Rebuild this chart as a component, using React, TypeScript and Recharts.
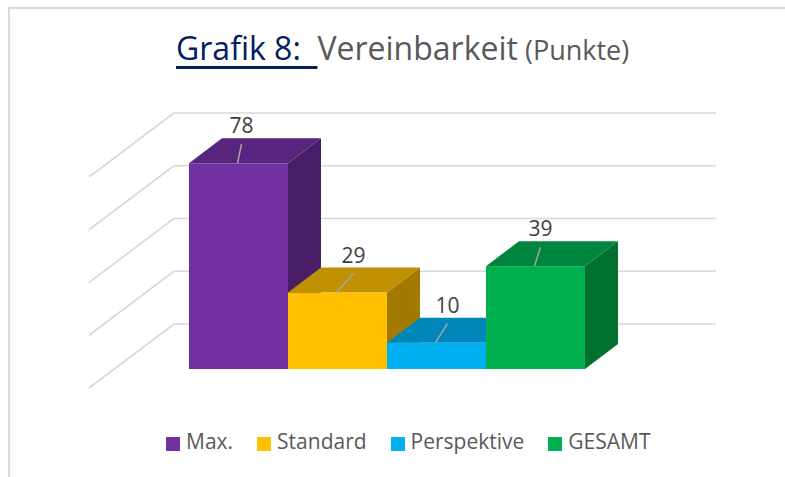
import React from 'react';
import { BarChart, Bar, XAxis, YAxis, CartesianGrid, Legend, LabelList } from 'recharts';

const CATEGORIES = ['Vereinbarkeit'];
const SERIES_KEYS = ['max', 'standard', 'perspektive', 'gesamt'];
const SERIES_NAMES = ['Max.', 'Standard', 'Perspektive', 'GESAMT'];
const MAX_VALUES = [78];
const STANDARD_VALUES = [29];
const PERSPEKTIVE_VALUES = [10];
const GESAMT_VALUES = [39];
const Y_TICKS = [0, 20, 40, 60, 80];

const data = CATEGORIES.map((name, i) => ({
  name,
  max: MAX_VALUES[i],
  standard: STANDARD_VALUES[i],
  perspektive: PERSPEKTIVE_VALUES[i],
  gesamt: GESAMT_VALUES[i],
}));

// styles
const FRONT = ['#7030A0', '#FFC000', '#00B0F0', '#00B050'];
const TOP = ['#57247E', '#BF9000', '#0086B8', '#00863C'];
const SIDE = ['#481E67', '#A27A00', '#00729C', '#00712F'];
const LABEL_DX = [3, 16, 11, 5];
const FONT = "'Open Sans', 'DejaVu Sans', sans-serif";
const GRID_COLOR = '#d9d9d9';

const DX = 33;
const DY = 25;
const WALL_BACK_DX = 59;
const WALL_BACK_DY = 45;
const WALL_FRONT_DX = 26;
const WALL_FRONT_DY = 19;

const gridLine = (props: any) => {
  const { x1, x2, y1, index } = props;
  const bx1 = x1 + WALL_BACK_DX;
  const bx2 = x2 + WALL_BACK_DX;
  const by = y1 - WALL_BACK_DY;
  return (
    <g key={`grid-${index}-${y1}`}>
      <line x1={bx1} y1={by} x2={bx2} y2={by} stroke={GRID_COLOR} strokeWidth={1.6} />
      <line x1={bx1} y1={by} x2={x1 - WALL_FRONT_DX} y2={y1 + WALL_FRONT_DY} stroke={GRID_COLOR} strokeWidth={1.6} />
    </g>
  );
};

const makeShape = (i: number) => (props: any) => {
  const { x, y, width, height } = props;
  if (width == null || height == null) return <g />;
  const top = `${x},${y} ${x + width},${y} ${x + width + DX},${y - DY} ${x + DX},${y - DY}`;
  const side = `${x + width},${y} ${x + width + DX},${y - DY} ${x + width + DX},${y + height - DY} ${x + width},${y + height}`;
  return (
    <g>
      <polygon points={side} fill={SIDE[i]} />
      <polygon points={top} fill={TOP[i]} />
      <rect x={x} y={y} width={width} height={height} fill={FRONT[i]} />
    </g>
  );
};

const makeLabel = (i: number) => (props: any) => {
  const vb = props.viewBox || {};
  const x = props.x ?? vb.x;
  const y = props.y ?? vb.y;
  const width = props.width ?? vb.width;
  const cx = x + width / 2;
  const lx = cx + LABEL_DX[i];
  return (
    <g>
      <line x1={cx - 1} y1={y} x2={lx} y2={y - 19} stroke="#a6a6a6" strokeWidth={1.5} />
      <text x={lx} y={y - 30} textAnchor="middle" fontFamily={FONT} fontSize={21} fill="#404040">
        {props.value}
      </text>
    </g>
  );
};

const renderLegend = (props: any) => {
  const payload = [...(props.payload || [])].sort(
    (a: any, b: any) => SERIES_NAMES.indexOf(a.value) - SERIES_NAMES.indexOf(b.value)
  );
  return (
    <div style={{ display: 'flex', fontFamily: FONT, fontSize: 21, lineHeight: '24px', color: '#595959', whiteSpace: 'nowrap' }}>
      {payload.map((e: any, idx: number) => (
        <div key={idx} style={{ display: 'flex', alignItems: 'flex-start', marginRight: 24 }}>
          <span style={{ display: 'inline-block', width: 14, height: 14, background: e.color, marginTop: 8, marginRight: 6 }} />
          <span>{e.value}</span>
        </div>
      ))}
    </div>
  );
};

export default function App() {
  return (
    <div style={{ position: 'absolute', left: 0, top: 0, width: 785, height: 477, overflow: 'hidden', background: '#ffffff' }}>
      <div style={{ position: 'absolute', left: 8, top: 7, width: 900, height: 600, borderTop: '2px solid #dadada', borderLeft: '2px solid #dadada' }} />
      <div
        style={{
          position: 'absolute',
          left: 176,
          top: 32,
          fontFamily: FONT,
          fontSize: 32,
          lineHeight: '32px',
          whiteSpace: 'pre',
          color: '#595959',
        }}
      >
        <span
          style={{
            color: '#002060',
            textDecoration: 'underline',
            textDecorationThickness: '3px',
            textUnderlineOffset: '6px',
          }}
        >
          {'Grafik 8:  '}
        </span>
        <span>{'Vereinbarkeit'}</span>
        <span style={{ fontSize: 27 }}>{' (Punkte)'}</span>
      </div>
      <div style={{ position: 'absolute', left: 0, top: 0 }}>
        <BarChart
          width={785}
          height={477}
          data={data}
          margin={{ top: 158, right: 128, bottom: 84, left: 115 }}
          barCategoryGap="13.65%"
          barGap={0}
        >
          <CartesianGrid vertical={false} horizontal={gridLine} horizontalValues={Y_TICKS} />
          <XAxis dataKey="name" hide />
          <YAxis hide domain={[0, 80]} ticks={Y_TICKS} />
          <Legend
            verticalAlign="bottom"
            content={renderLegend}
            wrapperStyle={{ left: 166, top: 429, bottom: 'auto', width: 'auto' }}
          />
          {SERIES_KEYS.map((key, i) => (
            <Bar
              key={key}
              dataKey={key}
              name={SERIES_NAMES[i]}
              fill={FRONT[i]}
              shape={makeShape(i)}
              isAnimationActive={false}
            >
              <LabelList dataKey={key} content={makeLabel(i)} />
            </Bar>
          ))}
        </BarChart>
      </div>
    </div>
  );
}
